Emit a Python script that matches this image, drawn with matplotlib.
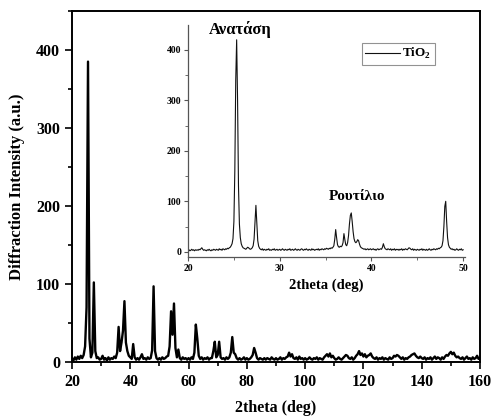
import numpy as np
import matplotlib
matplotlib.use("Agg")
import matplotlib.pyplot as plt
from matplotlib.ticker import MultipleLocator

plt.rcParams['font.family'] = ['Liberation Serif', 'DejaVu Serif']
plt.rcParams['font.weight'] = 'bold'
plt.rcParams['mathtext.fontset'] = 'custom'
plt.rcParams['mathtext.rm'] = 'Liberation Serif:bold'
plt.rcParams['mathtext.bf'] = 'Liberation Serif:bold'

# full scan, 20-160 deg, one value every 0.5 deg
main_start, main_stop = 20.0, 160.0
main_counts = [
    5, 2, 6, 3, 7, 4, 8, 5, 9, 20, 70, 385, 30, 6, 12, 102, 14, 5, 6, 3,       # 20
    4, 8, 3, 5, 2, 6, 3, 5, 4, 7, 5, 12, 45, 14, 25, 40, 78, 25, 14, 8,       # 30
    6, 4, 23, 6, 3, 5, 3, 6, 10, 4, 5, 3, 6, 4, 5, 15, 97, 14, 5, 3,          # 40
    5, 3, 6, 4, 5, 7, 8, 20, 65, 35, 75, 18, 6, 16, 5, 3, 6, 4, 5, 3,         # 50
    5, 3, 6, 4, 12, 48, 30, 8, 4, 6, 3, 5, 4, 6, 3, 5, 5, 14, 26, 6,          # 60
    9, 26, 6, 4, 5, 3, 6, 4, 6, 12, 32, 12, 10, 5, 3, 5, 3, 4, 6, 3,          # 70
    5, 3, 4, 6, 9, 18, 12, 5, 3, 5, 4, 3, 5, 3, 5, 4, 3, 6, 4, 3,             # 80
    5, 3, 4, 6, 3, 5, 4, 6, 7, 12, 7, 10, 5, 4, 6, 3, 7, 4, 5, 3,             # 90
    5, 3, 4, 6, 4, 3, 5, 4, 6, 3, 5, 4, 3, 6, 8, 10, 7, 11, 6, 8,             # 100
    5, 3, 4, 6, 4, 3, 5, 7, 9, 8, 5, 4, 6, 3, 5, 8, 10, 14, 9, 11,            # 110
    7, 10, 6, 8, 9, 11, 7, 5, 4, 6, 3, 5, 4, 6, 3, 5, 4, 3, 6, 4,             # 120
    5, 8, 7, 9, 8, 6, 4, 6, 3, 5, 4, 6, 7, 9, 10, 11, 8, 6, 5, 7,             # 130
    5, 4, 6, 3, 5, 4, 6, 3, 5, 7, 4, 6, 5, 3, 6, 4, 7, 9, 8, 11,              # 140
    13, 10, 12, 8, 6, 7, 5, 4, 6, 3, 5, 7, 4, 5, 3, 6, 4, 5, 8, 4,            # 150
    5,
]

# inset scan, 20-50 deg, one value every 0.1 deg
inset_start, inset_stop = 20.0, 50.0
inset_counts = [
    3, 4, 2, 3, 5, 3, 4, 2, 4, 3,
    4, 3, 5, 4, 6, 8, 5, 3, 4, 3,
    2, 4, 3, 5, 3, 2, 4, 3, 5, 4,
    3, 5, 4, 3, 6, 4, 5, 3, 6, 5,
    4, 6, 5, 7, 6, 8, 9, 12, 16, 26,
    60, 160, 340, 420, 300, 130, 55, 28, 16, 11,
    8, 7, 6, 5, 7, 9, 8, 6, 5, 6,
    8, 12, 25, 60, 92, 55, 22, 11, 7, 5,
    4, 6, 3, 5, 4, 3, 5, 4, 6, 3,
    4, 3, 5, 4, 6, 3, 4, 5, 3, 4,
    5, 3, 4, 6, 4, 3, 5, 4, 3, 5,
    4, 6, 3, 4, 5, 3, 4, 6, 4, 3,
    5, 4, 3, 5, 6, 4, 3, 5, 4, 6,
    4, 3, 5, 4, 3, 6, 4, 5, 3, 4,
    5, 4, 6, 3, 5, 4, 6, 5, 4, 6,
    5, 7, 6, 5, 7, 6, 8, 7, 9, 12,
    25, 44, 28, 14, 10, 9, 11, 10, 12, 18,
    36, 24, 14, 12, 18, 32, 55, 72, 77, 60,
    40, 26, 20, 18, 20, 24, 22, 15, 10, 8,
    7, 6, 5, 6, 4, 5, 6, 4, 5, 6,
    4, 5, 6, 4, 5, 3, 5, 6, 4, 5,
    6, 5, 9, 16, 10, 6, 5, 4, 6, 5,
    4, 6, 3, 5, 4, 6, 3, 5, 4, 5,
    3, 5, 4, 6, 3, 5, 4, 6, 5, 4,
    6, 8, 7, 5, 4, 6, 3, 5, 4, 3,
    5, 4, 3, 5, 4, 6, 3, 5, 4, 3,
    5, 3, 4, 6, 4, 3, 5, 4, 6, 5,
    4, 6, 5, 7, 6, 8, 9, 12, 22, 50,
    90, 100, 60, 28, 14, 9, 7, 5, 6, 4,
    5, 3, 4, 6, 4, 3, 5, 4, 6, 3,
    4,
]

main_tth = np.linspace(main_start, main_stop, len(main_counts))
inset_tth = np.linspace(inset_start, inset_stop, len(inset_counts))

fig = plt.figure(figsize=(4.91, 4.19), dpi=100)
ax = fig.add_axes([0.1466, 0.136, 0.831, 0.838])
ax.plot(main_tth, main_counts, color='black', lw=1.7)
ax.set_xlim(20, 160)
ax.set_ylim(0, 450)
ax.xaxis.set_major_locator(MultipleLocator(20))
ax.xaxis.set_minor_locator(MultipleLocator(10))
ax.yaxis.set_major_locator(MultipleLocator(100))
ax.yaxis.set_minor_locator(MultipleLocator(50))
ax.set_yticks([0, 100, 200, 300, 400])
ax.tick_params(which='both', direction='out', width=1.2, labelsize=11.5)
ax.tick_params(which='major', length=5)
ax.tick_params(which='minor', length=3)
for s in ax.spines.values():
    s.set_linewidth(1.4)
ax.set_xlabel('2theta (deg)', fontsize=11.5, fontweight='bold', labelpad=7)
ax.set_ylabel('Diffraction Intensity (a.u.)', fontsize=12, fontweight='bold', labelpad=8)

axin = fig.add_axes([0.383, 0.387, 0.564, 0.553])
axin.plot(inset_tth, inset_counts, color='#111111', lw=0.8, label='TiO$_2$')
axin.set_xlim(20, 50.2)
axin.set_ylim(-10, 449)
axin.set_xticks([20, 30, 40, 50])
axin.xaxis.set_minor_locator(MultipleLocator(5))
axin.set_yticks([0, 100, 200, 300, 400])
axin.yaxis.set_minor_locator(MultipleLocator(50))
axin.patch.set_alpha(0)
for side in ['top', 'right']:
    axin.spines[side].set_visible(False)
for side in ['left', 'bottom']:
    axin.spines[side].set_color('#555555')
    axin.spines[side].set_linewidth(0.9)
axin.tick_params(which='both', direction='out', color='#555555', labelsize=7, pad=2)
axin.tick_params(which='major', length=3)
axin.tick_params(which='minor', length=2)
axin.set_xlabel('2theta (deg)', fontsize=10.5, fontweight='bold', labelpad=4)
axin.text(25.7, 440, 'Ανατάση', fontsize=12, fontweight='bold', ha='center', va='center')
axin.text(38.4, 109, 'Ρουτίλιο', fontsize=11, fontweight='bold', ha='center', va='center')

leg = axin.legend(loc='upper left', bbox_to_anchor=(362 / 491, 1 - 43 / 419),
                  bbox_transform=fig.transFigure, fontsize=9.5, frameon=True,
                  fancybox=False, borderpad=0.25, handlelength=2.6,
                  handletextpad=0.2, borderaxespad=0)
leg.get_frame().set_edgecolor('#777777')
leg.get_frame().set_linewidth(0.8)

fig.savefig('out.png', dpi=100)
